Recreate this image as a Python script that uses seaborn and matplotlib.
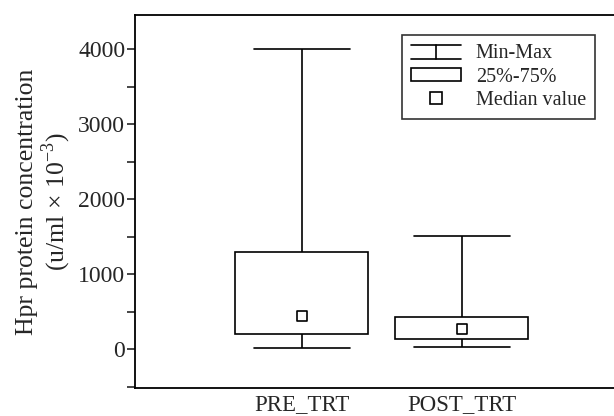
import matplotlib
matplotlib.use("Agg")
import matplotlib.pyplot as plt
from matplotlib.lines import Line2D
from matplotlib.patches import Rectangle
from matplotlib.ticker import MultipleLocator
import numpy as np
import pandas as pd
import seaborn as sns

# five-number summaries: min, q25, median, q75, max
groups = ["PRE_TRT", "POST_TRT"]
pre_trt = [15, 200, 444, 1290, 4000]
post_trt = [35, 137, 271, 435, 1515]
medians = [444, 271]

legend_labels = ["Min-Max", "25%-75%", "Median value"]


class MinMaxHandler:
	# little "I" shaped whisker glyph for the legend
	def legend_artist(self, legend, orig_handle, fontsize, handlebox):
		x0, y0 = handlebox.xdescent, handlebox.ydescent
		w, h = handlebox.width, handlebox.height
		top = y0 + h * 1.0
		bot = y0 + h * 0.0
		lines = [
			Line2D([x0, x0 + w], [top, top], color="black", lw=1.2),
			Line2D([x0, x0 + w], [bot, bot], color="black", lw=1.2),
			Line2D([x0 + w / 2, x0 + w / 2], [bot, top], color="black", lw=1.2),
		]
		for ln in lines:
			ln.set_transform(handlebox.get_transform())
			handlebox.add_artist(ln)
		return lines[0]


def main():
	sns.set_style("white")
	plt.rcParams['font.family'] = ['Liberation Serif', 'DejaVu Serif']
	plt.rcParams['mathtext.fontset'] = 'custom'
	plt.rcParams['mathtext.rm'] = 'Liberation Serif'
	plt.rcParams['axes.unicode_minus'] = False

	df = pd.DataFrame({
		"group": [groups[0]] * len(pre_trt) + [groups[1]] * len(post_trt),
		"value": pre_trt + post_trt,
	})
	med_df = pd.DataFrame({"group": groups, "value": medians})

	fig = plt.figure(figsize=(6.14, 4.16), dpi=100)
	ax = fig.add_axes([0.22, 0.067, 0.79, 0.897])

	sns.boxplot(x="group", y="value", data=df, order=groups, whis=(0, 100),
		width=0.83, color="white", linecolor="black", linewidth=1.2,
		showfliers=False, capwidths=0.6,
		medianprops={"visible": False}, ax=ax)
	sns.stripplot(x="group", y="value", data=med_df, order=groups, jitter=False,
		marker="s", size=7.5, color="white", edgecolor="black", linewidth=1.2, ax=ax)

	ax.set_xlim(-1.04, 1.99)
	ax.set_ylim(-520, 4457)
	ax.yaxis.set_major_locator(MultipleLocator(1000))
	ax.yaxis.set_minor_locator(MultipleLocator(500))
	ax.tick_params(axis="y", which="both", left=True, direction="out", length=6, width=1.2, labelsize=17, pad=1)
	ax.tick_params(axis="x", bottom=False, labelsize=16.5, pad=1)
	for s in ax.spines.values():
		s.set_linewidth(1.3)
		s.set_color("black")

	ax.set_xlabel("")
	ax.set_ylabel("Hpr protein concentration\n(u/ml × 10$^{\\mathregular{-3}}$)", fontsize=18.5,
		labelpad=4, linespacing=1.05)

	handles = [
		Line2D([], []),
		Rectangle((0, 0), 1, 1, facecolor="white", edgecolor="black", lw=1.2),
		Line2D([], [], marker="s", linestyle="", markersize=8, markerfacecolor="white",
			markeredgecolor="black", markeredgewidth=1.2),
	]
	leg = ax.legend(handles, legend_labels, loc="upper left", bbox_to_anchor=(0.551, 0.946),
		borderaxespad=0, fontsize=14.5, frameon=True, fancybox=False, edgecolor="black",
		handlelength=2.45, handleheight=0.65, labelspacing=0.22, borderpad=0.45,
		handletextpad=0.75, handler_map={handles[0]: MinMaxHandler()})
	leg.get_frame().set_linewidth(1.2)

	fig.savefig("out.png", dpi=100)


if __name__ == "__main__":
	main()
